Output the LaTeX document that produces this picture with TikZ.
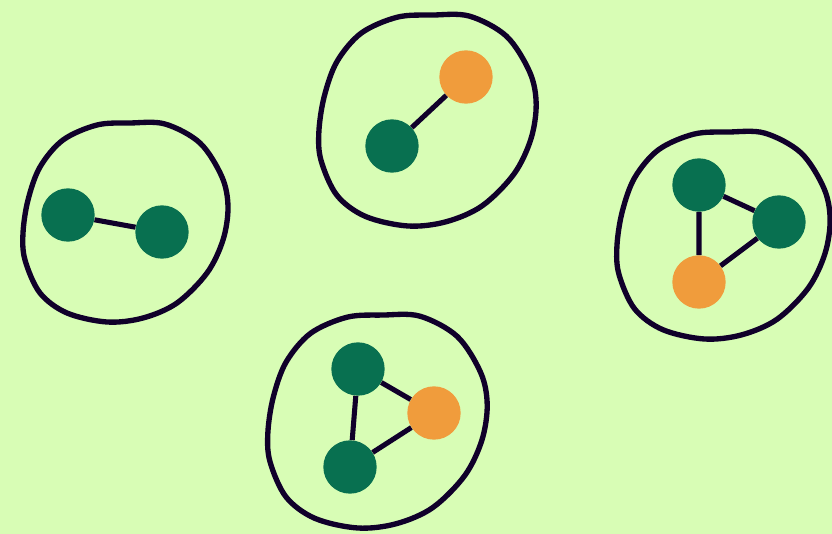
\documentclass[tikz,border=0pt]{standalone}
\usetikzlibrary{positioning}

\definecolor{bgGreen}{HTML}{D8FDB5}
\definecolor{dotGreen}{HTML}{087050}
\definecolor{dotOrange}{HTML}{F09C3C}
\definecolor{inkNavy}{HTML}{10002A}

\begin{document}
\begin{tikzpicture}[x=0.75pt,y=-0.75pt,
  dot/.style={circle,inner sep=0pt,minimum size=40pt,fill=dotGreen},
  odot/.style={dot,fill=dotOrange},
  edge/.style={draw=inkNavy,line width=3.8pt},
  pics/blob/.style={code={
    \draw[inkNavy,line width=4pt,line join=round,line cap=round]
      plot[smooth cycle,tension=0.55] coordinates {
      (5,-99) (40,-98) (75,-79) (97,-45) (103,-15) (98,18) (82,51)
      (52,81) (18,96) (-18,100) (-58,91) (-85,71) (-100,38) (-102,11)
      (-97,-22) (-85,-55) (-62,-82) (-28,-97)};
  }}]

%background
\fill[bgGreen] (0,0) rectangle (832,534);
\useasboundingbox (0,0) rectangle (832,534);

%Shape: outlines
\pic at (125,222) {blob};
\pic[scale=1.06] at (427,120) {blob};
\pic[scale=1.04] at (723,235) {blob};
\pic[scale=1.07] at (377,421) {blob};

%pair on the left
\node[dot] (a1) at (68,215) {};
\node[dot] (a2) at (162,232) {};
\draw[edge] (a1) -- (a2);

%pair at the top
\node[dot] (b1) at (392,146) {};
\node[odot] (b2) at (466,77) {};
\draw[edge] (b1) -- (b2);

%triangle on the right
\node[dot] (c1) at (699,185) {};
\node[dot] (c2) at (779,222) {};
\node[odot] (c3) at (699,282) {};
\draw[edge] (c1) -- (c2) (c2) -- (c3) (c3) -- (c1);

%triangle at the bottom
\node[dot] (d1) at (358,369) {};
\node[odot] (d2) at (434,413) {};
\node[dot] (d3) at (350,467) {};
\draw[edge] (d1) -- (d2) (d2) -- (d3) (d3) -- (d1);

\end{tikzpicture}
\end{document}
